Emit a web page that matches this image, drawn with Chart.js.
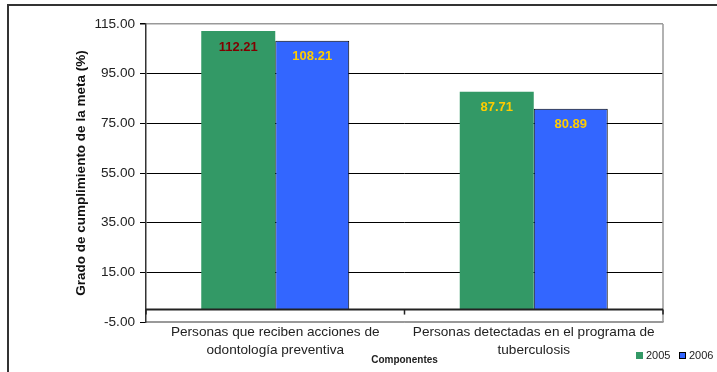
<!DOCTYPE html>
<html lang="es">
<head>
    <meta charset="UTF-8">
    <title>Grado de cumplimiento de la meta</title>
    <script src="https://cdn.jsdelivr.net/npm/chart.js"></script>
    <style>
        body { margin: 0; background: #fff; }
        canvas { display: block; }
    </style>
</head>
<body>
    <canvas id="metaChart" width="717" height="372"></canvas>

    <script>
        // datos por componente
        const componentes = [
            ['Personas que reciben acciones de', 'odontología preventiva'],
            ['Personas detectadas en el programa de', 'tuberculosis']
        ];
        const anios = ['2005', '2006'];
        const valores2005 = [112.21, 87.71];
        const valores2006 = [108.21, 80.89];
        const ejeY = { min: -5, max: 115, paso: 20 };

        // color de las etiquetas dentro de cada barra
        const colorEtiqueta2005 = ['#800000', '#FFCC00'];
        const colorEtiqueta2006 = ['#FFCC00', '#FFCC00'];

        const FUENTE = "Arial, 'Liberation Sans', sans-serif";

        // valores escritos dentro de las barras
        const etiquetasPlugin = {
            id: 'etiquetas',
            afterDatasetsDraw(chart) {
                const ctx = chart.ctx;
                ctx.save();
                ctx.font = 'bold 13px ' + FUENTE;
                ctx.textAlign = 'center';
                ctx.textBaseline = 'middle';
                chart.data.datasets.forEach((ds, i) => {
                    chart.getDatasetMeta(i).data.forEach((bar, j) => {
                        ctx.fillStyle = ds.labelColors[j];
                        ctx.fillText(ds.data[j].toFixed(2), bar.x, bar.y + 16);
                    });
                });
                ctx.restore();
            }
        };

        // línea del cero, marcas del eje X, borde derecho, marco y leyenda
        const marcoPlugin = {
            id: 'marco',
            afterDatasetsDraw(chart) {
                const ctx = chart.ctx;
                const area = chart.chartArea;
                const y0 = chart.scales.y.getPixelForValue(0);
                ctx.save();
                ctx.strokeStyle = '#999';
                ctx.lineWidth = 1.5;
                ctx.beginPath();
                ctx.moveTo(area.right, area.top);
                ctx.lineTo(area.right, area.bottom);
                ctx.stroke();

                ctx.strokeStyle = '#222';
                ctx.lineWidth = 2;
                ctx.beginPath();
                ctx.moveTo(area.left, y0);
                ctx.lineTo(area.right, y0);
                ctx.stroke();

                ctx.lineWidth = 1.5;
                const paso = (area.right - area.left) / componentes.length;
                for (let k = 0; k <= componentes.length; k++) {
                    const x = area.left + paso * k;
                    ctx.beginPath();
                    ctx.moveTo(x, y0);
                    ctx.lineTo(x, y0 + 5);
                    ctx.stroke();
                }
                ctx.restore();
            },
            afterDraw(chart) {
                const ctx = chart.ctx;
                ctx.save();
                ctx.strokeStyle = '#333';
                ctx.lineWidth = 2;
                ctx.beginPath();
                ctx.moveTo(8, chart.height);
                ctx.lineTo(8, 5);
                ctx.lineTo(chart.width, 5);
                ctx.stroke();

                // leyenda
                ctx.font = '11px ' + FUENTE;
                ctx.textBaseline = 'middle';
                ctx.textAlign = 'left';
                let x = 636;
                const y = 356;
                chart.data.datasets.forEach(ds => {
                    ctx.fillStyle = ds.backgroundColor;
                    ctx.fillRect(x, y - 4, 7, 7);
                    if (ds.borderWidth) {
                        ctx.strokeStyle = '#000';
                        ctx.lineWidth = 1;
                        ctx.strokeRect(x + 0.5, y - 3.5, 6, 6);
                    }
                    ctx.fillStyle = '#222';
                    ctx.fillText(ds.label, x + 10, y);
                    x += 43;
                });
                ctx.restore();
            }
        };

        const ctx = document.getElementById('metaChart').getContext('2d');
        const metaChart = new Chart(ctx, {
            type: 'bar',
            data: {
                labels: componentes,
                datasets: [
                    {
                        label: anios[0],
                        data: valores2005,
                        backgroundColor: '#339966',
                        borderWidth: 0,
                        labelColors: colorEtiqueta2005
                    },
                    {
                        label: anios[1],
                        data: valores2006,
                        backgroundColor: '#3366FF',
                        borderColor: '#000',
                        borderWidth: 1,
                        labelColors: colorEtiqueta2006
                    }
                ]
            },
            options: {
                responsive: false,
                animation: false,
                layout: { padding: { top: 24, right: 54, left: 0, bottom: 0 } },
                datasets: {
                    bar: { categoryPercentage: 0.5725, barPercentage: 1 }
                },
                plugins: {
                    legend: { display: false },
                    tooltip: { enabled: false }
                },
                scales: {
                    x: {
                        afterFit(scale) { scale.height = 50; },
                        grid: { display: false, drawTicks: false },
                        border: { color: '#999', width: 1.5 },
                        ticks: {
                            padding: 1,
                            color: '#222',
                            maxRotation: 0,
                            font: { family: FUENTE, size: 13.6, lineHeight: 1.32 }
                        },
                        title: {
                            display: true,
                            text: 'Componentes',
                            color: '#222',
                            padding: { top: 0, bottom: 6 },
                            font: { family: FUENTE, size: 10, weight: 'bold', lineHeight: 1.2 }
                        }
                    },
                    y: {
                        min: ejeY.min,
                        max: ejeY.max,
                        afterFit(scale) { scale.width = 146; },
                        afterBuildTicks(scale) {
                            scale.ticks = [];
                            for (let v = ejeY.min; v <= ejeY.max; v += ejeY.paso) {
                                scale.ticks.push({ value: v });
                            }
                        },
                        grid: {
                            color: c => (c.tick && (c.tick.value === ejeY.max || c.tick.value === ejeY.min)) ? '#999' : '#000',
                            lineWidth: c => (c.tick && c.tick.value === ejeY.max) ? 1.5 : 1,
                            tickColor: '#000',
                            tickLength: 6
                        },
                        border: { color: '#333', width: 1.5 },
                        ticks: {
                            padding: 5,
                            color: '#222',
                            font: { family: FUENTE, size: 13.6 },
                            callback: v => v.toFixed(2)
                        },
                        title: {
                            display: true,
                            text: 'Grado de cumplimiento de la meta (%)',
                            color: '#111',
                            padding: { top: 73, bottom: 0 },
                            font: { family: FUENTE, size: 13.5, weight: 'bold' }
                        }
                    }
                }
            },
            plugins: [etiquetasPlugin, marcoPlugin]
        });
    </script>
</body>
</html>
